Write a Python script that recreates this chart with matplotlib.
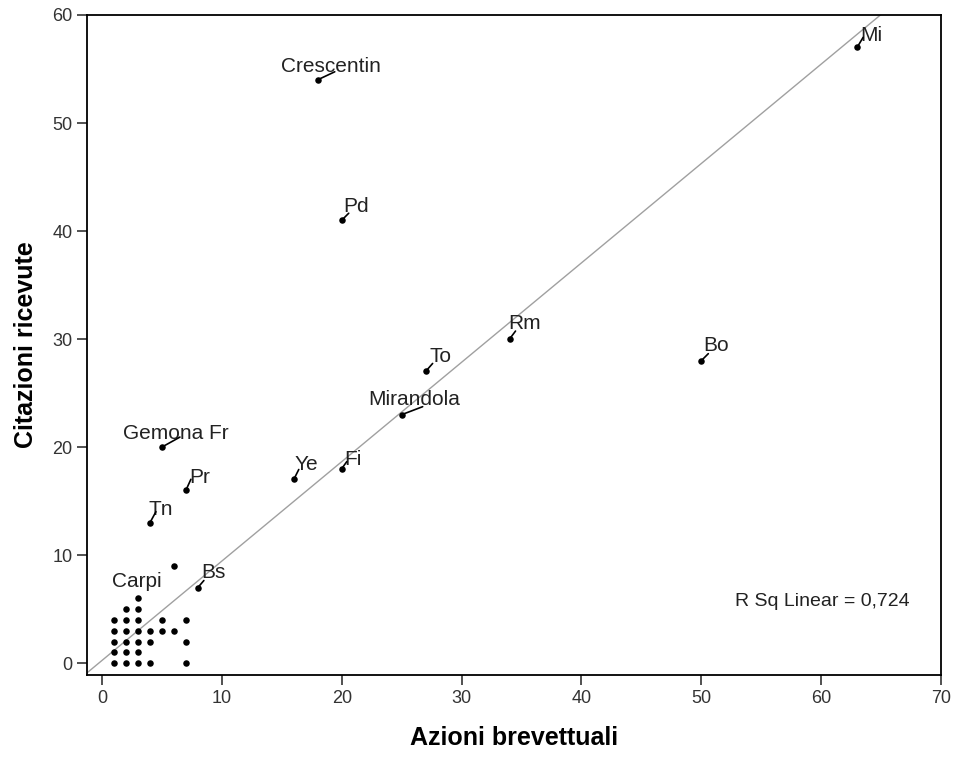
import numpy as np
import matplotlib.pyplot as plt

plt.rcParams['font.family'] = ['Liberation Sans', 'DejaVu Sans']

# punti etichettati
nomi = ["Mi", "Crescentin", "Pd", "Rm", "Bo", "To", "Mirandola",
        "Gemona Fr", "Ye", "Fi", "Pr", "Tn", "Carpi", "Bs"]
azioni_lab = [63, 18, 20, 34, 50, 27, 25, 5, 16, 20, 7, 4, 3, 8]
citaz_lab = [57, 54, 41, 30, 28, 27, 23, 20, 17, 18, 16, 13, 6, 7]

# spostamento etichette e tratti di richiamo (pixel)
off_x = [3, -37, 2, -1, 2, 4, -33, -39, 1, 3, 3, -1, -26, 3]
off_y = [12, 13, 14, 16, 15, 15, 15, 14, 15, 9, 13, 13, 17, 15]
tratto_x = [6, 17, 7, 6, 7, 7, 21, 18, 5, 5, 5, 6, 0, 6]
tratto_y = [10, 8, 7, 8, 7, 8, 8, 10, 10, 7, 11, 11, 0, 7]

# punti senza etichetta (gruppo in basso a sinistra)
azioni_alt = [1, 2, 3, 4, 7, 1, 2, 3, 1, 2, 3, 4, 7, 1, 2, 3, 4, 5, 6,
              1, 2, 3, 5, 7, 2, 3, 6]
citaz_alt = [0, 0, 0, 0, 0, 1, 1, 1, 2, 2, 2, 2, 2, 3, 3, 3, 3, 3, 3,
             4, 4, 4, 4, 4, 5, 5, 9]

r2_testo = "R Sq Linear = 0,724"
pendenza = 0.92
intercetta = 0.25

fig = plt.figure(figsize=(9.54, 7.6), dpi=100)
ax = fig.add_axes([0.0912, 0.1118, 0.8952, 0.8685])

# retta di regressione
xx = np.array([-1.25, 70])
ax.plot(xx, intercetta + pendenza * xx, color='#a0a0a0', lw=1, zorder=1)

x_tutti = azioni_lab + azioni_alt
y_tutti = citaz_lab + citaz_alt
ax.scatter(x_tutti, y_tutti, s=22, color='black', zorder=3, linewidths=0)

for n, x, y, dx, dy, tx, ty in zip(nomi, azioni_lab, citaz_lab,
                                   off_x, off_y, tratto_x, tratto_y):
    ax.annotate(n, (x, y), xytext=(dx, dy), textcoords='offset pixels',
                ha='left', va='center', fontsize=15, color='#222222')
    if tx or ty:
        ax.annotate('', (x, y), xytext=(tx, ty), textcoords='offset pixels',
                    arrowprops=dict(arrowstyle='-', color='black', lw=1.2,
                                    shrinkA=0, shrinkB=0))

ax.text(0.759, 0.112, r2_testo, transform=ax.transAxes, fontsize=14,
        ha='left', va='center', color='#222222')

ax.set_xlim(-1.25, 70)
ax.set_ylim(-1.1, 60)
ax.set_xticks(range(0, 71, 10))
ax.set_yticks(range(0, 61, 10))
ax.tick_params(labelsize=13, length=7, width=1.2, colors='#333333',
               labelcolor='#333333')
for s in ax.spines.values():
    s.set_linewidth(1.3)

ax.set_xlabel("Azioni brevettuali", fontsize=18, fontweight='bold', labelpad=14)
ax.set_ylabel("Citazioni ricevute", fontsize=18, fontweight='bold', labelpad=10)

fig.savefig("out.png", dpi=100)
